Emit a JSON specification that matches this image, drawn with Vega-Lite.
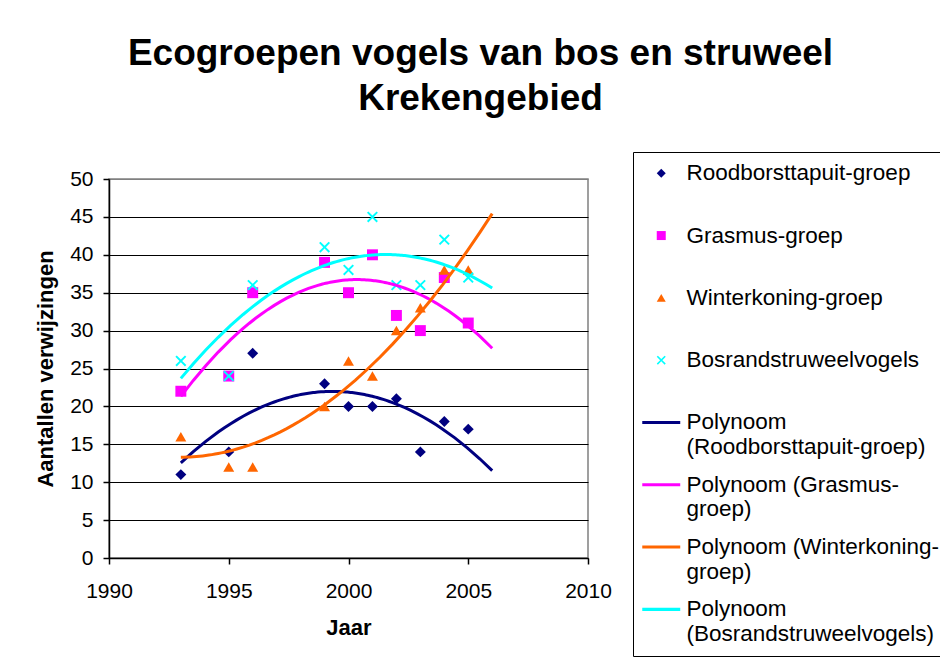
{
  "$schema": "https://vega.github.io/schema/vega-lite/v6.json",
  "autosize": "none",
  "width": 479,
  "height": 379,
  "padding": {"left": 109, "top": 179, "right": 352, "bottom": 101},
  "background": "white",
  "config": {
    "font": "Liberation Sans",
    "view": {"stroke": "#808080", "strokeWidth": 1.5},
    "axis": {"labelFont": "Liberation Sans", "titleFont": "Liberation Sans", "labelColor": "black", "titleColor": "black", "domainColor": "black", "domainWidth": 1.5, "tickColor": "black", "tickWidth": 1.5, "tickSize": 6}
  },
  "title": {
    "text": ["Ecogroepen vogels van bos en struweel", "Krekengebied"],
    "font": "Liberation Sans",
    "fontSize": 37,
    "fontWeight": "bold",
    "color": "black",
    "anchor": "middle",
    "frame": "group",
    "dx": 132,
    "baseline": "alphabetic",
    "offset": 5,
    "lineHeight": 45
  },
  "data": {
    "values": [
      {"series": "Roodborsttapuit-groep", "year": 1993, "value": 11},
      {"series": "Roodborsttapuit-groep", "year": 1995, "value": 14},
      {"series": "Roodborsttapuit-groep", "year": 1996, "value": 27},
      {"series": "Roodborsttapuit-groep", "year": 1999, "value": 23},
      {"series": "Roodborsttapuit-groep", "year": 2000, "value": 20},
      {"series": "Roodborsttapuit-groep", "year": 2001, "value": 20},
      {"series": "Roodborsttapuit-groep", "year": 2002, "value": 21},
      {"series": "Roodborsttapuit-groep", "year": 2003, "value": 14},
      {"series": "Roodborsttapuit-groep", "year": 2004, "value": 18},
      {"series": "Roodborsttapuit-groep", "year": 2005, "value": 17},
      {"series": "Grasmus-groep", "year": 1993, "value": 22},
      {"series": "Grasmus-groep", "year": 1995, "value": 24},
      {"series": "Grasmus-groep", "year": 1996, "value": 35},
      {"series": "Grasmus-groep", "year": 1999, "value": 39},
      {"series": "Grasmus-groep", "year": 2000, "value": 35},
      {"series": "Grasmus-groep", "year": 2001, "value": 40},
      {"series": "Grasmus-groep", "year": 2002, "value": 32},
      {"series": "Grasmus-groep", "year": 2003, "value": 30},
      {"series": "Grasmus-groep", "year": 2004, "value": 37},
      {"series": "Grasmus-groep", "year": 2005, "value": 31},
      {"series": "Winterkoning-groep", "year": 1993, "value": 16},
      {"series": "Winterkoning-groep", "year": 1995, "value": 12},
      {"series": "Winterkoning-groep", "year": 1996, "value": 12},
      {"series": "Winterkoning-groep", "year": 1999, "value": 20},
      {"series": "Winterkoning-groep", "year": 2000, "value": 26},
      {"series": "Winterkoning-groep", "year": 2001, "value": 24},
      {"series": "Winterkoning-groep", "year": 2002, "value": 30},
      {"series": "Winterkoning-groep", "year": 2003, "value": 33},
      {"series": "Winterkoning-groep", "year": 2004, "value": 38},
      {"series": "Winterkoning-groep", "year": 2005, "value": 38},
      {"series": "Bosrandstruweelvogels", "year": 1993, "value": 26},
      {"series": "Bosrandstruweelvogels", "year": 1995, "value": 24},
      {"series": "Bosrandstruweelvogels", "year": 1996, "value": 36},
      {"series": "Bosrandstruweelvogels", "year": 1999, "value": 41},
      {"series": "Bosrandstruweelvogels", "year": 2000, "value": 38},
      {"series": "Bosrandstruweelvogels", "year": 2001, "value": 45},
      {"series": "Bosrandstruweelvogels", "year": 2002, "value": 36},
      {"series": "Bosrandstruweelvogels", "year": 2003, "value": 36},
      {"series": "Bosrandstruweelvogels", "year": 2004, "value": 42},
      {"series": "Bosrandstruweelvogels", "year": 2005, "value": 37}
    ]
  },
  "encoding": {
    "x": {
      "field": "year", "type": "quantitative",
      "scale": {"domain": [1990, 2010], "nice": false, "zero": false},
      "axis": {"title": "Jaar", "values": [1990, 1995, 2000, 2005, 2010], "format": "d", "grid": false, "labelFontSize": 21, "labelPadding": 16, "titleFontSize": 22, "titleFontWeight": "bold", "titlePadding": 16, "labelFlush": false}
    },
    "y": {
      "field": "value", "type": "quantitative",
      "scale": {"domain": [0, 50], "nice": false},
      "axis": {"title": "Aantallen verwijzingen", "values": [0, 5, 10, 15, 20, 25, 30, 35, 40, 45, 50], "grid": true, "gridColor": {"condition": {"test": "datum.value === 50", "value": "#808080"}, "value": "black"}, "gridWidth": 1.2, "labelFontSize": 21, "labelPadding": 10, "titleFontSize": 22, "titleFontWeight": "bold", "titlePadding": 12, "labelFlush": false}
    }
  },
  "layer": [
    {
      "mark": {"type": "point", "filled": true, "opacity": 1, "size": 120, "strokeWidth": 0},
      "encoding": {
        "color": {
          "field": "series", "type": "nominal",
          "scale": {
            "domain": ["Roodborsttapuit-groep", "Grasmus-groep", "Winterkoning-groep", "Bosrandstruweelvogels", "Polynoom|(Roodborsttapuit-groep)", "Polynoom (Grasmus-|groep)", "Polynoom (Winterkoning-|groep)", "Polynoom|(Bosrandstruweelvogels)"],
            "range": ["#000080", "#FF00FF", "#FF6600", "#00FFFF", "#000080", "#FF00FF", "#FF6600", "#00FFFF"]
          },
          "legend": {
            "orient": "none", "legendX": 524, "legendY": -27,
            "title": null,
            "strokeColor": "black", "fillColor": "white",
            "padding": 10,
            "labelFont": "Liberation Sans", "labelFontSize": 22.5, "labelColor": "black",
            "labelLimit": 500, "labelOffset": 14, "symbolOffset": 7,
            "rowPadding": 14.3,
            "symbolSize": 81, "symbolStrokeWidth": 0,
            "labelExpr": "indexof(datum.label, '|') >= 0 ? split(datum.label, '|') : [datum.label, '']",
            "encode": {"labels": {"update": {"lineHeight": {"value": 27}, "dy": {"value": 13.5}}}}
          }
        },
        "shape": {
          "field": "series", "type": "nominal",
          "scale": {
            "domain": ["Roodborsttapuit-groep", "Grasmus-groep", "Winterkoning-groep", "Bosrandstruweelvogels", "Polynoom|(Roodborsttapuit-groep)", "Polynoom (Grasmus-|groep)", "Polynoom (Winterkoning-|groep)", "Polynoom|(Bosrandstruweelvogels)"],
            "range": ["diamond", "square", "triangle-up", "M-1,-0.75L-0.75,-1L0,-0.25L0.75,-1L1,-0.75L0.25,0L1,0.75L0.75,1L0,0.25L-0.75,1L-1,0.75L-0.25,0Z", "M-4.22,-0.35L4.22,-0.35L4.22,0.35L-4.22,0.35Z", "M-4.22,-0.35L4.22,-0.35L4.22,0.35L-4.22,0.35Z", "M-4.22,-0.35L4.22,-0.35L4.22,0.35L-4.22,0.35Z", "M-4.22,-0.35L4.22,-0.35L4.22,0.35L-4.22,0.35Z"]
          }
        }
      }
    },
    {
      "transform": [
        {"regression": "value", "on": "year", "groupby": ["series"], "method": "poly", "order": 2, "extent": [1993, 2006]}
      ],
      "mark": {"type": "line", "strokeWidth": 3},
      "encoding": {
        "color": {"field": "series", "type": "nominal", "legend": null}
      }
    }
  ]
}
